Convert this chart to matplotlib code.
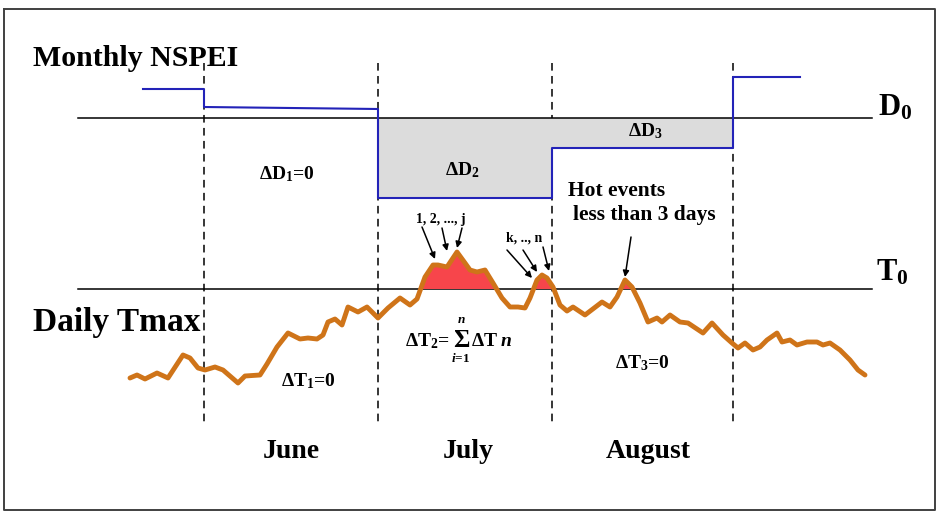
import matplotlib
matplotlib.use('Agg')
import matplotlib.pyplot as plt
import numpy as np

# plot settings
plt.rcParams['font.family'] = 'Liberation Serif'
plt.rcParams['font.weight'] = 'bold'
plt.rcParams['mathtext.fontset'] = 'custom'
plt.rcParams['mathtext.rm'] = 'Liberation Serif:bold'
plt.rcParams['mathtext.bf'] = 'Liberation Serif:bold'
plt.rcParams['mathtext.it'] = 'Liberation Serif:italic:bold'
plt.rcParams['mathtext.fallback'] = 'stix'

orange = '#cf7419'
red = '#f7454b'
blue = '#2323b8'
grey = '#dcdcdc'

# data (schematic units: x = position along time, y = level, axis inverted)
month_edges = [204, 378, 552, 733]
month_names = ['June', 'July', 'August']
month_label_x = [291, 468, 648]

d0_level = 118
t0_level = 289

nspei_x = [143, 204, 204, 378, 378, 552, 552, 733, 733, 800]
nspei_y = [89, 89, 107, 109, 198, 198, 148, 148, 77, 77]

tmax_x = [130, 137, 145, 157, 168, 183, 190, 198, 205, 215, 223, 238, 245, 260,
          267, 277, 288, 300, 308, 317, 323, 328, 335, 342, 348, 358, 367, 378,
          388, 400, 410, 417, 425, 433, 438, 447, 457, 465, 470, 477, 485, 493,
          502, 510, 518, 525, 530, 537, 542, 547, 553, 560, 567, 573, 585, 602,
          610, 617, 625, 632, 640, 648, 657, 662, 670, 680, 688, 703, 712, 723,
          732, 738, 745, 753, 760, 767, 777, 782, 790, 797, 807, 817, 823, 830,
          840, 850, 858, 865]
tmax_y = [378, 375, 379, 373, 378, 355, 358, 368, 370, 367, 370, 383, 376, 375,
          364, 347, 333, 339, 338, 339, 335, 322, 319, 325, 307, 312, 307, 318,
          308, 298, 305, 299, 277, 265, 265, 267, 252, 263, 270, 272, 270, 283,
          298, 307, 307, 308, 298, 280, 275, 278, 287, 305, 311, 307, 315, 302,
          307, 297, 280, 287, 303, 322, 318, 322, 315, 322, 323, 333, 323, 335,
          343, 348, 343, 350, 347, 340, 333, 342, 340, 345, 342, 342, 345, 343,
          350, 360, 370, 375]

fig = plt.figure(figsize=(9.37, 5.12), dpi=100)
ax = fig.add_axes([0, 0, 1, 1])
ax.set_xlim(0, 937)
ax.set_ylim(512, 0)
ax.axis('off')

# outer frame
ax.plot([4, 935, 935, 4, 4], [9, 9, 510, 510, 9], color='#404040', lw=1.4, zorder=1)

# month separators
for xe in month_edges:
    ax.plot([xe, xe], [63, 426], color='k', lw=1.1, ls=(0, (5, 3.5)), zorder=2)

# thresholds
ax.plot([78, 872], [d0_level, d0_level], color='k', lw=1.1, zorder=3)
ax.plot([78, 872], [t0_level, t0_level], color='k', lw=1.1, zorder=3)

# NSPEI steps and deficit areas
nx = np.array(nspei_x)
ny = np.array(nspei_y)
ax.fill_between(nx, ny, d0_level, where=(ny > d0_level) & (nx >= 378) & (nx <= 733),
                color=grey, lw=0, zorder=2)
ax.plot(nx, ny, color=blue, lw=1.5, zorder=4)

# daily Tmax and hot excess
tx = np.array(tmax_x)
ty = np.array(tmax_y)
ax.fill_between(tx, ty, t0_level, where=ty < t0_level, interpolate=True,
                color=red, lw=0, zorder=4)
ax.plot(tx, ty, color=orange, lw=3.5, solid_joinstyle='round',
        solid_capstyle='round', zorder=5)

# labels
ax.text(33, 58, 'Monthly NSPEI', fontsize=21.5, ha='left', va='center')
ax.text(33, 322, 'Daily Tmax', fontsize=24, ha='left', va='center')
ax.text(878, 108, r'D$_{\mathbf{0}}$', fontsize=22, ha='left', va='center')
ax.text(876, 273, r'T$_{\mathbf{0}}$', fontsize=22, ha='left', va='center')

for name, xm in zip(month_names, month_label_x):
    ax.text(xm, 451, name, fontsize=20, ha='center', va='center')

ax.text(287, 174, r'$\Delta$D$_1$=0', fontsize=14, ha='center', va='center')
ax.text(462, 170, r'$\Delta$D$_2$', fontsize=14, ha='center', va='center')
ax.text(645, 131, r'$\Delta$D$_3$', fontsize=14, ha='center', va='center')
ax.text(308, 381, r'$\Delta$T$_1$=0', fontsize=14, ha='center', va='center')
ax.text(642, 363, r'$\Delta$T$_3$=0', fontsize=14, ha='center', va='center')

# Delta T2 = sum_{i=1}^{n} Delta T n
ax.text(405, 346, r'$\Delta$T$_2$=', fontsize=14, ha='left', va='baseline')
ax.text(461, 347, '\u03a3', fontsize=18, ha='center', va='baseline')
ax.text(461, 320, 'n', fontsize=9.5, style='italic', ha='center', va='center')
ax.text(461, 359, r'$\mathit{i}$=1', fontsize=9.5, ha='center', va='center')
ax.text(471, 346, r'$\Delta$T', fontsize=14, ha='left', va='baseline')
ax.text(501, 346, 'n', fontsize=14, style='italic', ha='left', va='baseline')

ax.text(568, 191, 'Hot events', fontsize=15.5, ha='left', va='center')
ax.text(573, 215, 'less than 3 days', fontsize=15.5, ha='left', va='center')

arrow = dict(arrowstyle='-|>', color='k', lw=1.1, mutation_scale=9, shrinkA=0, shrinkB=0)
ax.text(441, 219, '1, 2, ..., j', fontsize=10, ha='center', va='center')
for start, end in [((422, 227), (435, 259)), ((442, 228), (447, 251)), ((462, 228), (457, 248))]:
    ax.annotate('', xy=end, xytext=start, arrowprops=arrow)
ax.text(524, 238, 'k, .., n', fontsize=10, ha='center', va='center')
for start, end in [((507, 250), (532, 278)), ((523, 250), (537, 272)), ((543, 247), (549, 271))]:
    ax.annotate('', xy=end, xytext=start, arrowprops=arrow)
ax.annotate('', xy=(625, 277), xytext=(631, 237), arrowprops=arrow)

plt.savefig('out.png', dpi=100)
